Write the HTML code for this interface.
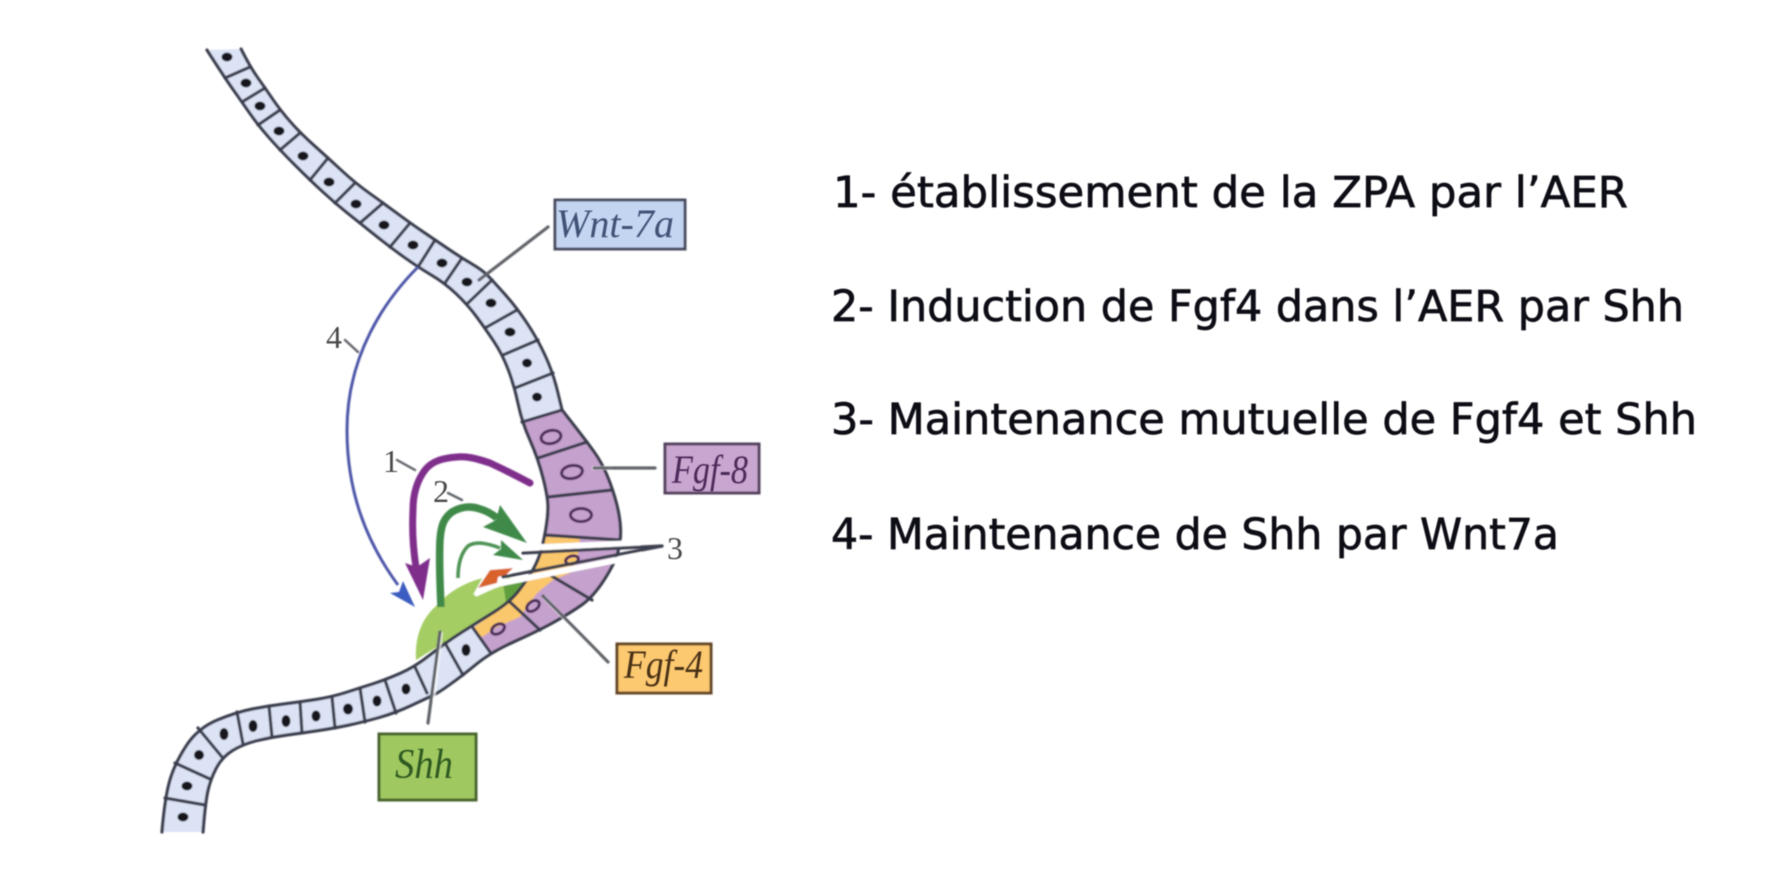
<!DOCTYPE html>
<html lang="fr">
<head>
<meta charset="utf-8">
<title>Diagramme AER ZPA</title>
<style>
html,body{margin:0;padding:0;background:#fff;width:1786px;height:882px;overflow:hidden}
svg{display:block}
</style>
</head>
<body>
<svg width="1786" height="882" viewBox="0 0 1786 882" xmlns="http://www.w3.org/2000/svg">
<defs>
<filter id="b" x="-5%" y="-5%" width="110%" height="110%"><feGaussianBlur stdDeviation="0.9"/></filter>
<filter id="t" x="-5%" y="-20%" width="110%" height="140%"><feGaussianBlur stdDeviation="0.5"/></filter>
</defs>
<rect width="1786" height="882" fill="#fff"/>
<g filter="url(#b)">
<!-- top band -->
<polygon fill="#dbe3f5" points="207,50 225,78 242,102 258,125 280,150 310,180 335,203 360,223 390,247 418,267 445,283 468,305 485,328 503,355 515,388 522,422 562,410 553,373 538,340 517,308 492,280 482,270 460,257 435,240 410,223 383,203 355,183 328,158 300,133 280,110 265,88 250,67 241,49"/>
<!-- lower band -->
<polygon fill="#dbe3f5" points="162,832 165,797 175,763 198,728 237,712 268,706 300,702 332,697 360,688 385,680 415,667 445,643 478,622 491,652 463,675 438,693 427,698 395,713 363,722 335,728 302,733 272,737 243,744 222,757 210,780 205,805 203,832"/>
<!-- purple region -->
<polygon fill="#c5a1cd" points="522,422 562,410 587,442 602,463 613,490 620,517 621,540 615,563 593,597 570,613 540,630 491,652 473,628 510,602 527,580 537,563 543,545 548,517 548,497 538,458"/>
<!-- Shh blob -->
<path fill="#a4cd63" d="M416,660Q414,625 437,605Q455,585 483,578L527,578Q520,595 506,603L448,640Z"/>
<polygon fill="#5f9e3e" points="503,583 527,578 517,596 506,602"/>
<!-- orange -->
<polygon fill="#fac76c" points="545,537 580,538 577,563 570,573 553,580 537,593 520,617 497,627 482,637 473,628 510,602 527,580 537,563"/>
<!-- outlines -->
<g fill="none" stroke="#3a3d4e" stroke-width="3.2" stroke-linejoin="round" stroke-linecap="round">
<path d="M207,50Q225,78 233.5,90Q242,102 250,113.5Q258,125 269,137.5Q280,150 295,165Q310,180 322.5,191.5Q335,203 347.5,213Q360,223 375,235Q390,247 404,257Q418,267 431.5,275Q445,283 456.5,294Q468,305 476.5,316.5Q485,328 494,341.5Q503,355 509,371.5Q515,388 518.5,405Q522,422 530,440Q538,458 543,477.5Q548,497 548,507Q548,517 545.5,531Q543,545 540,554Q537,563 532,571.5Q527,580 518.5,591Q510,602 494,612Q478,622 461.5,632.5Q445,643 430,655Q415,667 400,673.5Q385,680 372.5,684Q360,688 346,692.5Q332,697 316,699.5Q300,702 284,704Q268,706 252.5,709Q237,712 217.5,720Q198,728 186.5,745.5Q175,763 170,780Q165,797 162,832"/>
<path d="M241,49Q250,67 257.5,77.5Q265,88 272.5,99Q280,110 290,121.5Q300,133 314,145.5Q328,158 341.5,170.5Q355,183 369,193Q383,203 396.5,213Q410,223 422.5,231.5Q435,240 447.5,248.5Q460,257 471,263.5Q482,270 487,275Q492,280 504.5,294Q517,308 527.5,324Q538,340 545.5,356.5Q553,373 557.5,391.5L562,410L574.5,426Q587,442 594.5,452.5Q602,463 607.5,476.5Q613,490 616.5,503.5Q620,517 620.5,528.5Q621,540 618,551.5Q615,563 604,580Q593,597 581.5,605Q570,613 555,621.5Q540,630 515.5,641Q491,652 477,663.5Q463,675 450.5,684Q438,693 432.5,695.5Q427,698 411,705.5Q395,713 379,717.5Q363,722 349,725Q335,728 318.5,730.5Q302,733 287,735Q272,737 257.5,740.5Q243,744 232.5,750.5Q222,757 216,768.5Q210,780 207.5,792.5Q205,805 203,832"/>
<!-- dividers -->
<path d="M225,78L250,67M242,102L265,88M258,125L280,110M280,150L300,133M310,180L328,158M335,203L355,183M360,223L383,203M390,247L410,223M418,267L435,240M445,283L462,258M468,303L492,280M485,328L517,310M503,355L538,340M515,388L553,373M522,422L562,410M538,458L587,442M548,497L612,490M545,535L620,540M550,575L592,600M510,602L540,630M473,628L490,652M445,643L463,675M415,667L427,693M385,680L396,713M360,688L365,722M332,697L335,728M300,702L302,733M269,706L272,737M237,712L243,744M198,728L222,757M175,763L210,779M165,798L205,805"/>
</g>
<!-- nuclei -->
<g fill="#14141e">
<ellipse cx="227" cy="57" rx="5.5" ry="4.5"/><ellipse cx="246" cy="83" rx="5.5" ry="4.5"/><ellipse cx="260" cy="106" rx="5.5" ry="4.5"/><ellipse cx="279" cy="131" rx="5.5" ry="4.5"/><ellipse cx="303" cy="156" rx="5.5" ry="4.5"/><ellipse cx="329" cy="182" rx="5.5" ry="4.5"/><ellipse cx="356" cy="204" rx="5.5" ry="4.5"/><ellipse cx="384" cy="225" rx="5.5" ry="4.5"/><ellipse cx="413" cy="245" rx="5.5" ry="4.5"/><ellipse cx="442" cy="263" rx="5.5" ry="4.5"/><ellipse cx="467" cy="282" rx="5.5" ry="4.5"/><ellipse cx="491" cy="303" rx="5.5" ry="4.5"/><ellipse cx="510" cy="332" rx="5.5" ry="4.5"/><ellipse cx="527" cy="363" rx="5" ry="4.5"/><ellipse cx="537" cy="397" rx="5" ry="4.5"/>
<ellipse cx="183" cy="817" rx="5.5" ry="4.5"/><ellipse cx="187" cy="786" rx="5.5" ry="4.5"/><ellipse cx="199" cy="755" rx="5" ry="5"/><ellipse cx="224" cy="734" rx="4.5" ry="6"/><ellipse cx="253" cy="726" rx="4.5" ry="6"/><ellipse cx="286" cy="721" rx="4.5" ry="6"/><ellipse cx="316" cy="716" rx="4.5" ry="5.5"/><ellipse cx="348" cy="709" rx="5" ry="5.5"/><ellipse cx="377" cy="701" rx="4.5" ry="5.5"/><ellipse cx="406" cy="689" rx="4.5" ry="5.5"/><ellipse cx="466" cy="650" rx="4.5" ry="6"/>
</g>
<g fill="none" stroke="#4b2a5a" stroke-width="3">
<ellipse cx="551" cy="437" rx="10" ry="6.5" transform="rotate(-12 551 437)"/>
<ellipse cx="572" cy="472" rx="10.5" ry="6.5" transform="rotate(-10 572 472)"/>
<ellipse cx="581" cy="515" rx="10.5" ry="6.5"/>
<ellipse cx="572" cy="560" rx="6.5" ry="4" transform="rotate(-15 572 560)"/>
<ellipse cx="533" cy="606" rx="7" ry="4.5" transform="rotate(-35 533 606)"/>
<ellipse cx="498" cy="629" rx="7" ry="4.5" transform="rotate(-30 498 629)"/>
</g>
<!-- blue arrow -->
<path d="M418,267C385,300 347,355 347,430C347,490 365,540 398,585" fill="none" stroke="#4d57a8" stroke-width="3"/>
<polygon points="415,607 403,581 399,592 390,593" fill="#3a5cc0"/>
<!-- purple arrow -->
<path d="M530,483C515,475 505,470 490,463C475,458 466,456 457,457C443,458 432,461 425,470C416,482 413,495 413,510C412,530 413,548 416,567" fill="none" stroke="#7f2f8c" stroke-width="7" stroke-linecap="round"/>
<polygon points="423,600 405,563 417,567 430,558" fill="#7f2f8c"/>
<!-- green big arrow -->
<path d="M441,607C440,585 439,560 440,540C441,525 444,518 452,512C462,506 472,506 480,509C487,511 492,514 497,518" fill="none" stroke="#3f8a4a" stroke-width="7.5"/>
<polygon points="527,543 500,505 496,520 483,527" fill="#3f8a4a"/>
<!-- green small arrow -->
<path d="M458,578C458,565 461,553 468,546C476,541 487,543 500,548" fill="none" stroke="#4f9457" stroke-width="3.6"/>
<polygon points="523,560 501,540 501,549 493,555" fill="#3f8a4a"/>
<!-- white halos -->
<path d="M475,595L497,585L530,578" fill="none" stroke="#fff" stroke-width="4"/>
<polygon points="473,595 489,566 516,564 506,580 499,587" fill="#fff"/>
<!-- orange arrow -->
<polygon points="478,588 490,570 513,568 506,575 498,577 497,583" fill="#d9622a"/>
<path d="M520,548L640,543M502,583L642,555" stroke="#fff" stroke-width="6" fill="none"/>
<path d="M592,468L612,468M544,597L600,655M441,632L433,700" stroke="#fff" stroke-width="4" fill="none" opacity=".75"/>
<!-- leaders -->
<g fill="none" stroke="#616369" stroke-width="3.2" stroke-linecap="round">
<path d="M548,227L479,280"/>
<path d="M655,468L594,468"/>
<path d="M608,662L543,596"/>
<path d="M440,632L428,723"/>
<path d="M662,546L523,553" stroke="#3c3f50"/>
<path d="M662,546L503,577" stroke="#3c3f50"/>
<path d="M345,340L358,352M397,460L415,470M448,493L462,500" stroke-width="2.4"/>
</g>
<!-- boxes -->
<rect x="555" y="200" width="130" height="49" fill="#c4d5f2" stroke="#484e62" stroke-width="3"/>
<rect x="665" y="444" width="94" height="49" fill="#c8a6cf" stroke="#54425f" stroke-width="3"/>
<rect x="617" y="644" width="94" height="49" fill="#fcc870" stroke="#644428" stroke-width="3"/>
<rect x="379" y="734" width="97" height="66" fill="#a0c860" stroke="#47632f" stroke-width="3"/>
</g>
<g filter="url(#t)" font-family="'Liberation Serif',serif">
<g font-style="italic" font-size="40">
<text x="556" y="237" fill="#3f5276" textLength="118" lengthAdjust="spacingAndGlyphs">Wnt-7a</text>
<text x="672" y="483" fill="#4c2c5a" textLength="76" lengthAdjust="spacingAndGlyphs">Fgf-8</text>
<text x="624" y="678" fill="#4a3018" textLength="79" lengthAdjust="spacingAndGlyphs">Fgf-4</text>
<text x="395" y="778" fill="#2f5a20" font-size="42" textLength="58" lengthAdjust="spacingAndGlyphs">Shh</text>
</g>
<g font-size="32" fill="#484848">
<text x="326" y="348">4</text>
<text x="383" y="472">1</text>
<text x="433" y="502">2</text>
<text x="667" y="559">3</text>
</g>
</g>
<g filter="url(#t)" font-family="'DejaVu Sans','Liberation Sans',sans-serif" font-size="43" fill="#0c0c14" stroke="#0c0c14" stroke-width="0.7">
<text x="833" y="207" textLength="795" lengthAdjust="spacingAndGlyphs">1- établissement de la ZPA par l’AER</text>
<text x="831" y="321" textLength="853" lengthAdjust="spacingAndGlyphs">2- Induction de Fgf4 dans l’AER par Shh</text>
<text x="831" y="434" textLength="866" lengthAdjust="spacingAndGlyphs">3- Maintenance mutuelle de Fgf4 et Shh</text>
<text x="831" y="549" textLength="728" lengthAdjust="spacingAndGlyphs">4- Maintenance de Shh par Wnt7a</text>
</g>
</svg>
</body>
</html>
